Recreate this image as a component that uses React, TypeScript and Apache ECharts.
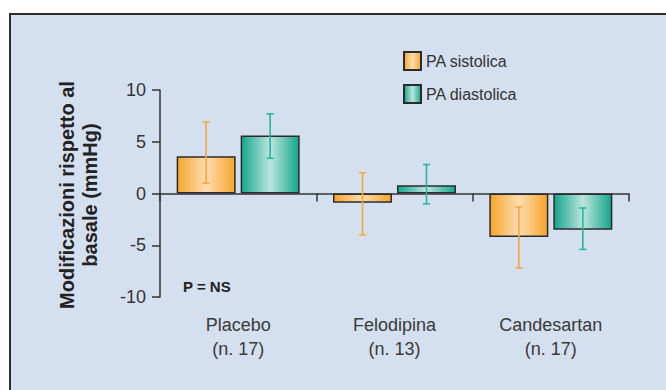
import React, { useEffect, useRef } from "react";
import * as echarts from "echarts";

const categories = ["Placebo\n(n. 17)", "Felodipina\n(n. 13)", "Candesartan\n(n. 17)"];
const seriesNames = ["PA sistolica", "PA diastolica"];
const sistolica = [3.6, -0.9, -4.2];
const diastolica = [5.6, 0.8, -3.5];
const sistolicaLow = [1.0, -4.0, -7.2];
const sistolicaHigh = [6.9, 2.0, -1.3];
const diastolicaLow = [3.4, -1.0, -5.4];
const diastolicaHigh = [7.7, 2.8, -1.4];
const yTicks = { min: -10, max: 10, interval: 5 };

const FONT = '"Liberation Sans", Arial, sans-serif';
const BAR_W = 59;
const BAR_GAP = 5;

function grad(edge: string, mid: string) {
  return new echarts.graphic.LinearGradient(0, 0, 1, 0, [
    { offset: 0, color: edge },
    { offset: 0.5, color: mid },
    { offset: 1, color: edge },
  ]);
}

function errSeries(name: string, low: number[], high: number[], color: string, offset: number) {
  return {
    type: "custom",
    name,
    z: 5,
    data: low.map((l, i) => [i, l, high[i]]),
    encode: { x: 0, y: [1, 2] },
    renderItem: (params: any, api: any) => {
      const i = api.value(0);
      const pl = api.coord([i, api.value(1)]);
      const ph = api.coord([i, api.value(2)]);
      const x = pl[0] + offset;
      const cap = 3.5;
      const style = { stroke: color, lineWidth: 1.6 };
      return {
        type: "group",
        children: [
          { type: "line", shape: { x1: x, y1: pl[1], x2: x, y2: ph[1] }, style },
          { type: "line", shape: { x1: x - cap, y1: pl[1], x2: x + cap, y2: pl[1] }, style },
          { type: "line", shape: { x1: x - cap, y1: ph[1], x2: x + cap, y2: ph[1] }, style },
        ],
      };
    },
  };
}

export default function App() {
  const ref = useRef<HTMLDivElement>(null);
  useEffect(() => {
    if (!ref.current) return;
    const chart = echarts.init(ref.current, null, { renderer: "svg" });
    const off = (BAR_W + BAR_GAP) / 2;
    chart.setOption({
      animation: false,
      backgroundColor: "#ffffff",
      graphic: [
        {
          type: "rect",
          z: -10,
          shape: { x: 10, y: 14, width: 700, height: 420 },
          style: { fill: "#d4dff0", stroke: "#2e2e2e", lineWidth: 2 },
        },
        {
          type: "text",
          x: 78.5,
          y: 195,
          rotation: Math.PI / 2,
          style: {
            text: "Modificazioni rispetto al\nbasale (mmHg)",
            font: `bold 20px ${FONT}`,
            align: "center",
            verticalAlign: "middle",
            lineHeight: 23,
            fill: "#222222",
          },
        },
        {
          type: "text",
          x: 183,
          y: 286,
          style: {
            text: "P = NS",
            font: `bold 15px ${FONT}`,
            align: "left",
            verticalAlign: "middle",
            fill: "#222222",
          },
        },
      ],
      legend: {
        data: seriesNames,
        orient: "vertical",
        left: 403,
        top: 51,
        padding: 0,
        itemWidth: 17,
        itemHeight: 18,
        itemGap: 13,
        icon: "rect",
        textStyle: { fontSize: 16, color: "#333333", fontFamily: FONT },
      },
      grid: { left: 160, right: 37, top: 90, bottom: 93, containLabel: false, outerBoundsMode: "none" },
      xAxis: {
        type: "category",
        data: categories,
        axisLine: { onZero: true, lineStyle: { color: "#333333", width: 1.5 } },
        axisTick: { show: true, length: 8, lineStyle: { color: "#333333", width: 1.5 } },
        axisLabel: {
          margin: 16,
          fontSize: 18,
          lineHeight: 24,
          color: "#3a3a3a",
          fontFamily: FONT,
        },
      },
      yAxis: {
        type: "value",
        min: yTicks.min,
        max: yTicks.max,
        interval: yTicks.interval,
        axisLine: { show: true, lineStyle: { color: "#333333", width: 1.5 } },
        axisTick: { show: true, length: 8, lineStyle: { color: "#333333", width: 1.5 } },
        axisLabel: { margin: 14, fontSize: 18, color: "#333333", fontFamily: FONT },
        splitLine: { show: false },
      },
      series: [
        {
          type: "bar",
          name: seriesNames[0],
          data: sistolica,
          barWidth: BAR_W,
          barGap: `${(BAR_GAP / BAR_W) * 100}%`,
          itemStyle: {
            color: grad("#f6a52c", "#fedcb0"),
            borderColor: "#2b2b2b",
            borderWidth: 1.5,
          },
        },
        {
          type: "bar",
          name: seriesNames[1],
          data: diastolica,
          barWidth: BAR_W,
          barGap: `${(BAR_GAP / BAR_W) * 100}%`,
          itemStyle: {
            color: grad("#14a68c", "#bde5de"),
            borderColor: "#2b2b2b",
            borderWidth: 1.5,
          },
        },
        errSeries("err-sis", sistolicaLow, sistolicaHigh, "#f5a83a", -off),
        errSeries("err-dia", diastolicaLow, diastolicaHigh, "#28b6a0", off),
      ],
    });
    return () => chart.dispose();
  }, []);
  return (
    <div style={{ position: "fixed", left: 0, top: 0, width: 666, height: 390 }}>
      <div ref={ref} style={{ width: 666, height: 390 }} />
    </div>
  );
}
